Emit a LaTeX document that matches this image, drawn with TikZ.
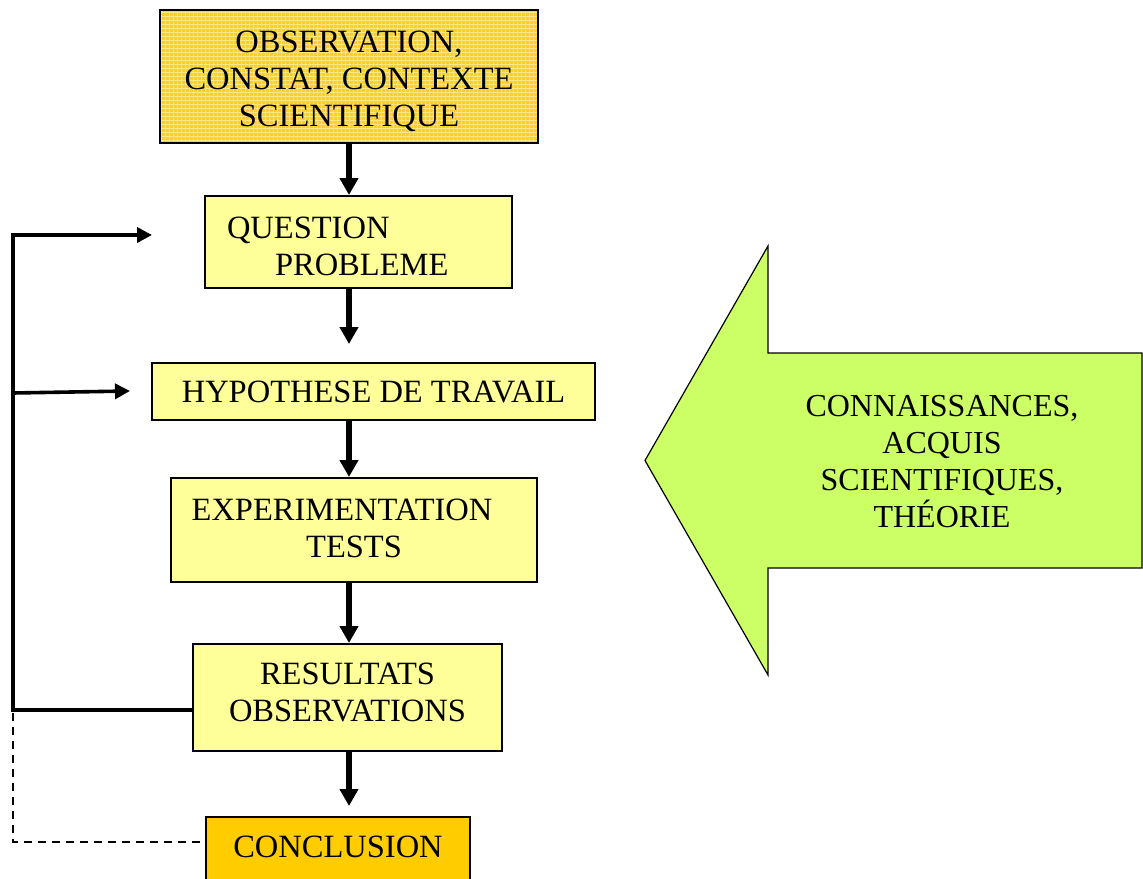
\documentclass[tikz,border=0pt]{standalone}
\usepackage{fontspec}
\setmainfont{Liberation Serif}
\usetikzlibrary{arrows.meta,calc}
\definecolor{paleyellow}{HTML}{FFFF99}
\definecolor{conclgold}{HTML}{FFCC00}
\definecolor{obsgold}{HTML}{FFCE2E}
\definecolor{obsgrid}{HTML}{FFE680}
\definecolor{knowlime}{HTML}{CCFF66}

\begin{document}
\begin{tikzpicture}[x=1pt,y=-1pt,
  box/.style={draw=black, line width=2pt, fill=paleyellow, inner sep=0pt},
  lbl/.style={inner sep=0pt, font=\fontsize{32.5}{37}\selectfont, align=center},
  flow/.style={line width=6pt, -{Triangle[width=18pt,length=17pt]}},
  loopline/.style={line width=3.6pt, miter limit=10},
  backtip/.style={{Triangle[width=15pt,length=15pt]}-},
  dashline/.style={line width=1.6pt, dash pattern=on 8pt off 6pt},
]
\useasboundingbox (0,0) rectangle (1143,878);

% flowchart boxes
\node[box, fill=obsgold, minimum width=378pt, minimum height=133pt,
      path picture={\draw[obsgrid, line width=0.6pt, step=4pt]
        (path picture bounding box.south west) grid (path picture bounding box.north east);}]
  (obs) at (349,76.5) {};
\node[box, minimum width=307pt, minimum height=92pt] (qst) at (358.5,242) {};
\node[box, minimum width=443pt, minimum height=57pt] (hyp) at (373.5,391.5) {};
\node[box, minimum width=366pt, minimum height=104pt] (exp) at (354,530) {};
\node[box, minimum width=309pt, minimum height=107pt] (res) at (347.5,697.5) {};
\node[box, fill=conclgold, minimum width=264pt, minimum height=64pt] (con) at (338,849) {};

% box texts
\node[lbl] (obs-t) at ($(obs.center)+(0,5)$) {OBSERVATION,\\CONSTAT, CONTEXTE\\SCIENTIFIQUE};
\node[lbl, text width=263pt, align=left] (qst-t) at ($(qst.center)+(0,4)$)
  {QUESTION\\\hspace*{48pt}PROBLEME};
\node[lbl] (hyp-t) at (hyp.center) {HYPOTHESE DE TRAVAIL};
\node[lbl] (exp-t) at ($(exp.center)+(0,-2)$) {EXPERIMENTATION\hspace*{24pt}\\TESTS};
\node[lbl] (res-t) at ($(res.center)+(0,-5)$) {RESULTATS\\OBSERVATIONS};
\node[lbl] (con-t) at ($(con.center)+(0,-2)$) {CONCLUSION};

% main downward arrows
\coordinate (ax) at (349,0);
\draw[flow] (obs.south -| ax) -- (qst.north -| ax);
\draw[flow] (qst.south -| ax) -- ($(hyp.north -| ax)+(0,-18)$);
\draw[flow] (hyp.south -| ax) -- (exp.north -| ax);
\draw[flow] (exp.south -| ax) -- (res.north -| ax);
\draw[flow] (res.south -| ax) -- ($(con.north -| ax)+(0,-10)$);

% feedback loop on the left
\coordinate (lt) at (13,235);
\coordinate (lm) at (13,393);
\coordinate (lb) at (13,710);
\coordinate (qa) at (152,235);
\coordinate (ha) at (130,391);
\draw[loopline, backtip] (qa) -- (lt) -- (lb) -- (lb -| res.west);
\draw[loopline, backtip] (ha) -- (lm);

% dashed link to the conclusion
\coordinate (dt) at (13,713);
\coordinate (dc) at (13,842);
\draw[dashline] (dt) -- (dc) -- (dc -| con.west);

% knowledge arrow
\draw[fill=knowlime, line width=1.2pt, line join=miter]
  (645,460.5) -- (768,246) -- (768,353) -- (1142,353) -- (1142,568)
  -- (768,568) -- (768,675) -- cycle;
\node[inner sep=0pt, font=\fontsize{32}{37}\selectfont, align=center]
  (know) at (942,461.5) {CONNAISSANCES,\\ACQUIS\\SCIENTIFIQUES,\\THÉORIE};
\end{tikzpicture}
\end{document}
